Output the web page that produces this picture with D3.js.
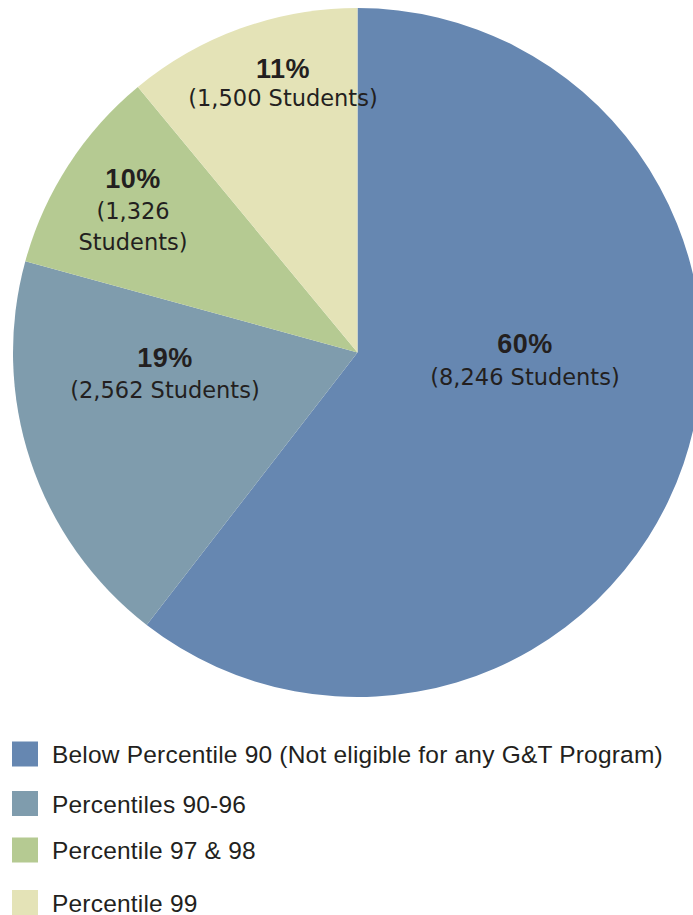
<!DOCTYPE html>
<html>
<head>
<meta charset="utf-8">
<script src="https://cdn.jsdelivr.net/npm/d3@7"></script>
<style>
  html, body { margin: 0; padding: 0; background: #fff; }
  svg { display: block; }
</style>
</head>
<body>
<svg id="chart" width="693" height="915"></svg>
<script>
// ---- data ----
const categories = [
  "Below Percentile 90 (Not eligible for any G&T Program)",
  "Percentiles 90-96",
  "Percentile 97 & 98",
  "Percentile 99"
];
const students = [8246, 2562, 1326, 1500];
const percentLabels = ["60%", "19%", "10%", "11%"];
const countLabels = [
  ["(8,246 Students)"],
  ["(2,562 Students)"],
  ["(1,326", "Students)"],
  ["(1,500 Students)"]
];
const colors = ["#6687B1", "#7F9CAD", "#B5CA92", "#E4E3B7"];

// ---- layout ----
const W = 693, H = 915;
const cx = 357.5, cy = 352.5, R = 344.5;
const textColor = "#231F20";
// label anchor (baseline of first line), per slice
const labelAnchors = [
  {x: 525, y: 353, gap: 32},
  {x: 165, y: 367, gap: 31},
  {x: 133, y: 188, gap: 31},
  {x: 283, y: 78, gap: 28}
];

const svg = d3.select("#chart");
svg.append("rect").attr("width", W).attr("height", H).attr("fill", "#fff");

const pie = d3.pie().sort(null).value(d => d)
  .startAngle(0).endAngle(2 * Math.PI);
const arc = d3.arc().innerRadius(0).outerRadius(R);
const arcs = pie(students);

const g = svg.append("g").attr("transform", `translate(${cx},${cy})`);
g.selectAll("path").data(arcs).join("path")
  .attr("d", arc)
  .attr("fill", (d, i) => colors[i]);

// labels
const lab = svg.append("g");
arcs.forEach((a, i) => {
  const p = labelAnchors[i];
  lab.append("text")
    .attr("x", p.x).attr("y", p.y)
    .attr("text-anchor", "middle")
    .attr("font-family", "Liberation Sans, Arial, sans-serif")
    .attr("font-weight", "bold")
    .attr("font-size", 27)
    .attr("letter-spacing", 0.5)
    .attr("fill", textColor)
    .text(percentLabels[i]);
  countLabels[i].forEach((line, j) => {
    lab.append("text")
      .attr("x", p.x).attr("y", p.y + p.gap * (j + 1))
      .attr("text-anchor", "middle")
      .attr("font-family", "DejaVu Sans, sans-serif")
      .attr("font-size", 22.5)
      .attr("fill", textColor)
      .text(line);
  });
});

// legend
const legendY = [754, 803.5, 850, 902.5];
const leg = svg.append("g");
categories.forEach((c, i) => {
  leg.append("rect")
    .attr("x", 12).attr("y", legendY[i] - 12.5)
    .attr("width", 26).attr("height", 25)
    .attr("fill", colors[i]);
  leg.append("text")
    .attr("x", 52).attr("y", legendY[i] + 9)
    .attr("font-family", "Liberation Sans, Arial, sans-serif")
    .attr("font-size", 24.5)
    .attr("letter-spacing", 0.2)
    .attr("fill", textColor)
    .text(c);
});
</script>
</body>
</html>
